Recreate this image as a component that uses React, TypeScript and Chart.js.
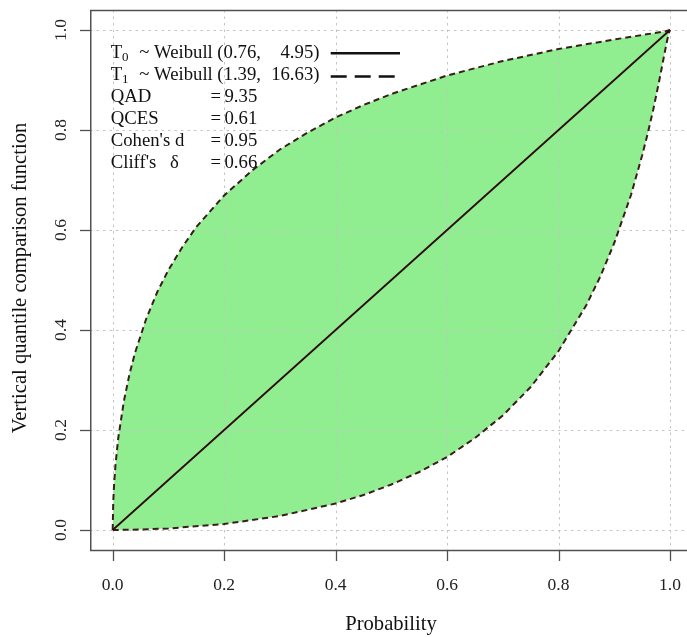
import React, { useEffect, useRef } from 'react';
import { Chart, registerables } from 'chart.js';

Chart.register(...registerables);

// ---- data ----
const xTickValues = [0, 0.2, 0.4, 0.6, 0.8, 1.0];
const yTickValues = [0, 0.2, 0.4, 0.6, 0.8, 1.0];
const tickLabels = ['0.0', '0.2', '0.4', '0.6', '0.8', '1.0'];

const diagonalP = [0, 1];
const diagonalV = [0, 1];

const upperP = [0, 0.001, 0.0025, 0.005, 0.01, 0.02, 0.03, 0.04, 0.06, 0.08, 0.1, 0.125, 0.15, 0.2, 0.25, 0.3, 0.35, 0.4, 0.45, 0.5, 0.6, 0.7, 0.8, 0.9, 0.95, 0.99, 1];
const upperV = [0, 0.056, 0.091, 0.130, 0.184, 0.257, 0.311, 0.354, 0.422, 0.476, 0.520, 0.566, 0.606, 0.669, 0.719, 0.761, 0.795, 0.825, 0.850, 0.872, 0.909, 0.938, 0.962, 0.981, 0.990, 0.997, 1];

const lowerP = [0, 0.05, 0.1, 0.2, 0.3, 0.4, 0.45, 0.5, 0.55, 0.6, 0.65, 0.7, 0.75, 0.8, 0.85, 0.875, 0.9, 0.93, 0.95, 0.96, 0.97, 0.98, 0.985, 0.99, 0.995, 0.999, 1];
const lowerV = [0, 0.001, 0.003, 0.012, 0.028, 0.053, 0.070, 0.091, 0.116, 0.146, 0.184, 0.229, 0.286, 0.358, 0.450, 0.507, 0.574, 0.670, 0.749, 0.793, 0.841, 0.895, 0.923, 0.952, 0.980, 0.998, 1];

const legendDistNames = ['T', 'T'];
const legendDistSubs = ['0', '1'];
const legendDistParams = ['(0.76,', '(1.39,'];
const legendDistScales = ['4.95)', '16.63)'];
const statNames = ['QAD', 'QCES', "Cohen's d", "Cliff's"];
const statValues = ['9.35', '0.61', '0.95', '0.66'];

const xTitle = 'Probability';
const yTitle = 'Vertical quantile comparison function';

const SERIF = '"Liberation Serif", "Times New Roman", Times, serif';
const LEG_SX = 1.04;

const toPts = (xs: number[], ys: number[]) => xs.map((p, i) => ({ x: p, y: ys[i] }));

function legText(ctx: CanvasRenderingContext2D, text: string, x: number, y: number, size: number, align: CanvasTextAlign = 'left') {
  ctx.save();
  ctx.translate(x, y);
  ctx.scale(LEG_SX, 1);
  ctx.font = `${size}px ${SERIF}`;
  ctx.textAlign = align;
  ctx.fillText(text, 0, 0);
  ctx.restore();
}

const decorPlugin = {
  id: 'rDecor',
  afterDatasetDraw(chart: any, args: any) {
    if (args.index !== 3) return;
    const { ctx, chartArea: a, scales } = chart;
    const xs = scales.x;
    const ys = scales.y;
    ctx.save();
    ctx.strokeStyle = '#c4c4c4';
    ctx.lineWidth = 1;
    ctx.setLineDash([2.5, 4]);
    xTickValues.forEach((v) => {
      const px = Math.round(xs.getPixelForValue(v)) + 0.5;
      ctx.beginPath();
      ctx.moveTo(px, a.top);
      ctx.lineTo(px, a.bottom);
      ctx.stroke();
    });
    yTickValues.forEach((v) => {
      const py = Math.round(ys.getPixelForValue(v)) + 0.5;
      ctx.beginPath();
      ctx.moveTo(a.left, py);
      ctx.lineTo(a.right, py);
      ctx.stroke();
    });
    ctx.restore();
  },
  afterDraw(chart: any) {
    const { ctx, chartArea: a, scales } = chart;
    const xs = scales.x;
    const ys = scales.y;
    ctx.save();
    // box (right side lies outside the canvas)
    ctx.strokeStyle = '#505050';
    ctx.lineWidth = 1.5;
    ctx.setLineDash([]);
    ctx.beginPath();
    ctx.moveTo(a.right + 10, a.top + 0.5);
    ctx.lineTo(a.left + 0.75, a.top + 0.5);
    ctx.lineTo(a.left + 0.75, a.bottom + 0.5);
    ctx.lineTo(a.right + 10, a.bottom + 0.5);
    ctx.stroke();
    // tick marks
    ctx.lineWidth = 1.3;
    xTickValues.forEach((v) => {
      const px = Math.round(xs.getPixelForValue(v)) + 0.5;
      ctx.beginPath();
      ctx.moveTo(px, a.bottom);
      ctx.lineTo(px, a.bottom + 11);
      ctx.stroke();
    });
    yTickValues.forEach((v) => {
      const py = Math.round(ys.getPixelForValue(v)) + 0.5;
      ctx.beginPath();
      ctx.moveTo(a.left, py);
      ctx.lineTo(a.left - 10, py);
      ctx.stroke();
    });
    // tick labels
    ctx.fillStyle = '#222';
    ctx.font = `17.5px ${SERIF}`;
    ctx.textAlign = 'center';
    ctx.textBaseline = 'alphabetic';
    xTickValues.forEach((v, i) => {
      ctx.fillText(tickLabels[i], xs.getPixelForValue(v), 589.5);
    });
    yTickValues.forEach((v, i) => {
      ctx.save();
      ctx.translate(66, ys.getPixelForValue(v));
      ctx.rotate(-Math.PI / 2);
      ctx.fillText(tickLabels[i], 0, 0);
      ctx.restore();
    });
    // axis titles
    ctx.fillStyle = '#111';
    ctx.font = `20.6px ${SERIF}`;
    ctx.fillText(xTitle, 391, 629.5);
    ctx.save();
    ctx.translate(25.5, 278);
    ctx.rotate(-Math.PI / 2);
    ctx.fillText(yTitle, 0, 0);
    ctx.restore();

    // legend text
    ctx.fillStyle = '#111';
    const lx = 110.7;
    const base0 = 57.6;
    const step = 22;
    for (let i = 0; i < 2; i++) {
      const by = base0 + step * i;
      legText(ctx, legendDistNames[i], lx, by, 18);
      legText(ctx, legendDistSubs[i], 122, by + 3, 12.5);
      legText(ctx, '~', 139.3, by, 18);
      legText(ctx, 'Weibull', 154, by, 18);
      legText(ctx, legendDistParams[i], 217.3, by, 18);
      legText(ctx, legendDistScales[i], 319.5, by, 18, 'right');
    }
    for (let j = 0; j < statNames.length; j++) {
      const by = base0 + step * (j + 2);
      legText(ctx, statNames[j], lx, by, 18);
      if (j === 3) legText(ctx, 'δ', 170, by, 18);
      legText(ctx, '=', 210.5, by, 18);
      legText(ctx, statValues[j], 224.5, by, 18);
    }
    // legend line samples
    ctx.strokeStyle = '#111';
    ctx.lineWidth = 2.4;
    ctx.lineCap = 'butt';
    ctx.setLineDash([]);
    ctx.beginPath();
    ctx.moveTo(330.7, 53.3);
    ctx.lineTo(400, 53.3);
    ctx.stroke();
    ctx.setLineDash([16, 8]);
    ctx.beginPath();
    ctx.moveTo(330.7, 76.5);
    ctx.lineTo(400, 76.5);
    ctx.stroke();
    ctx.restore();
  },
};

export default function App() {
  const canvasRef = useRef<HTMLCanvasElement | null>(null);

  useEffect(() => {
    document.body.style.margin = '0';
    document.body.style.overflow = 'hidden';
    const canvas = canvasRef.current;
    if (!canvas) return;
    const fillPts = [...toPts(upperP, upperV), ...toPts(lowerP, lowerV).reverse()];
    const chart = new Chart(canvas, {
      type: 'line',
      data: {
        datasets: [
          {
            label: 'diagonal',
            data: toPts(diagonalP, diagonalV),
            borderColor: '#2e0b0b',
            borderWidth: 1.8,
            pointRadius: 0,
            fill: false,
            order: 0,
          },
          {
            label: 'upper',
            data: toPts(upperP, upperV),
            borderColor: '#3a1c1c',
            borderWidth: 2,
            borderDash: [6, 4],
            pointRadius: 0,
            fill: false,
            order: 1,
          },
          {
            label: 'lower',
            data: toPts(lowerP, lowerV),
            borderColor: '#3a1c1c',
            borderWidth: 2,
            borderDash: [6, 4],
            pointRadius: 0,
            fill: false,
            order: 1,
          },
          {
            label: 'band',
            data: fillPts,
            borderColor: 'rgba(0,0,0,0)',
            borderWidth: 0,
            backgroundColor: '#90EE90',
            pointRadius: 0,
            fill: 'shape',
            order: 3,
          },
        ],
      } as any,
      options: {
        responsive: false,
        animation: false,
        events: [],
        layout: { padding: { left: 90, top: 10, right: 0, bottom: 87 } },
        elements: { line: { tension: 0 }, point: { radius: 0 } },
        plugins: { legend: { display: false }, tooltip: { enabled: false } },
        scales: {
          x: { type: 'linear', min: -0.0407, max: 1.0305, display: false },
          y: { type: 'linear', min: -0.04, max: 1.04, display: false },
        },
      } as any,
      plugins: [decorPlugin as any],
    });
    return () => chart.destroy();
  }, []);

  return (
    <div style={{ width: 687, height: 637 }}>
      <canvas ref={canvasRef} width={687} height={637} style={{ display: 'block' }} />
    </div>
  );
}
